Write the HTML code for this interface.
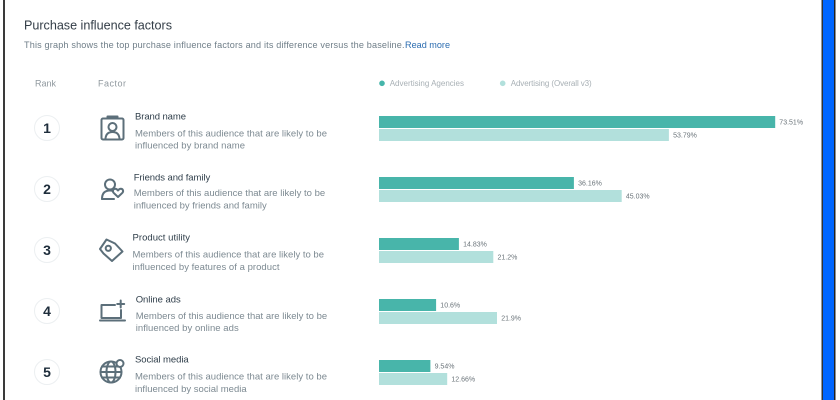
<!DOCTYPE html>
<html><head><meta charset="utf-8"><style>
html,body{margin:0;padding:0;background:#fff;}
svg{display:block;}
text{font-family:"Liberation Sans",Arial,sans-serif;}
</style></head><body>
<svg width="840" height="400" viewBox="0 0 840 400" xmlns="http://www.w3.org/2000/svg">
<rect width="840" height="400" fill="#fff"/>
<!-- borders -->
<rect x="3" y="0" width="2" height="400" fill="#3a3a3a"/>
<rect x="821.5" y="0" width="1.5" height="400" fill="#333"/>
<rect x="823" y="0" width="11" height="400" fill="#0066ff"/>
<rect x="834" y="0" width="1.5" height="400" fill="#222"/>

<!-- header -->
<text x="24" y="29.5" font-size="12.6" fill="#333d47" textLength="148">Purchase influence factors</text>
<text x="24" y="48.2" font-size="9.1" fill="#6f7e88" textLength="380.5">This graph shows the top purchase influence factors and its difference versus the baseline.</text>
<text x="405" y="48.2" font-size="9.1" fill="#2b6cb0" textLength="45">Read more</text>

<text x="35" y="86.3" font-size="9" fill="#8f989e" textLength="21">Rank</text>
<text x="98" y="86.3" font-size="9" fill="#8f989e" textLength="28">Factor</text>

<circle cx="382" cy="83.3" r="2.8" fill="#45b5aa"/>
<text x="389.7" y="86.2" font-size="8" fill="#a8b0b5" textLength="74.3">Advertising Agencies</text>
<circle cx="502.7" cy="83.3" r="2.8" fill="#b2e0dc"/>
<text x="510.7" y="86.2" font-size="8" fill="#a8b0b5" textLength="81">Advertising (Overall v3)</text>

<!-- rank circles -->
<g fill="#fff" stroke="#eceff1" stroke-width="1">
<circle cx="47" cy="128" r="12.5"/>
<circle cx="47" cy="189" r="12.5"/>
<circle cx="47" cy="250" r="12.5"/>
<circle cx="47" cy="311" r="12.5"/>
<circle cx="47" cy="372" r="12.5"/>
</g>
<g font-size="14" font-weight="bold" fill="#1e2d3b" text-anchor="middle">
<text x="47" y="133">1</text>
<text x="47" y="194">2</text>
<text x="47" y="255">3</text>
<text x="47" y="316">4</text>
<text x="47" y="377">5</text>
</g>

<!-- icons -->
<g fill="none" stroke="#5c6f7a" stroke-width="2" stroke-linecap="round" stroke-linejoin="round">
<!-- brand -->
<rect x="101.5" y="118.5" width="22" height="21" rx="1.5"/>
<path d="M107.5 118.5 V116.5 H117.5 V118.5"/>
<circle cx="112.5" cy="127" r="4"/>
<path d="M105.5 138.5 C106 133.5 109 132 112.5 132 C116 132 119 133.5 119.5 138.5"/>
<!-- friends -->
<circle cx="110" cy="184.5" r="5"/>
<path d="M102 199 C102 193 105 190.5 110 190.5 C111 190.5 112 190.6 112.8 190.9"/>
<path d="M102 199 H114"/>
<path d="M118 197 L113.6 192.8 C112.2 191.3 113 188.8 115.2 188.8 C116.5 188.8 117.3 189.6 118 190.5 C118.7 189.6 119.5 188.8 120.8 188.8 C123 188.8 123.8 191.3 122.4 192.8 Z"/>
<!-- tag -->
<path d="M100 249 L106.5 239.5 L115 243.5 L122.5 251.5 L112 261 L103.5 253.5 Z"/>
<circle cx="108.3" cy="248.3" r="2.6"/>
<!-- laptop -->
<path d="M115 305 H101.5 V318 H121 V310"/>
<path d="M100 320.5 H125"/>
<path d="M120.7 300.5 V307.5 M117.2 304 H124.2"/>
<!-- globe -->
<circle cx="111" cy="372" r="10.5"/>
<ellipse cx="111" cy="372" rx="4.5" ry="10.5"/>
<path d="M100.5 372 H121.5 M102 366.5 H118 M102 377.5 H120"/>
</g>
<circle cx="120" cy="363.5" r="3.5" fill="#fff" stroke="#5c6f7a" stroke-width="2"/>

<!-- factor text -->
<g font-size="9.5">
<text x="135" y="119.3" fill="#2f3e4a" textLength="51">Brand name</text>
<text x="135" y="136.4" fill="#7d8a92" textLength="192">Members of this audience that are likely to be</text>
<text x="135" y="148.6" fill="#7d8a92" textLength="110">influenced by brand name</text>

<text x="133.7" y="180.6" fill="#2f3e4a" textLength="76.5">Friends and family</text>
<text x="133.7" y="196" fill="#7d8a92" textLength="191.5">Members of this audience that are likely to be</text>
<text x="133.7" y="208.6" fill="#7d8a92" textLength="133">influenced by friends and family</text>

<text x="132.5" y="240.6" fill="#2f3e4a" textLength="57.5">Product utility</text>
<text x="132.5" y="257.6" fill="#7d8a92" textLength="191.5">Members of this audience that are likely to be</text>
<text x="132.5" y="270" fill="#7d8a92" textLength="147">influenced by features of a product</text>

<text x="135.7" y="302.6" fill="#2f3e4a" textLength="45">Online ads</text>
<text x="135.7" y="319" fill="#7d8a92" textLength="191.5">Members of this audience that are likely to be</text>
<text x="135.7" y="331" fill="#7d8a92" textLength="103">influenced by online ads</text>

<text x="135" y="362.6" fill="#2f3e4a" textLength="53.7">Social media</text>
<text x="135" y="379.6" fill="#7d8a92" textLength="192">Members of this audience that are likely to be</text>
<text x="135" y="392" fill="#7d8a92" textLength="111.7">influenced by social media</text>
</g>

<!-- bars -->
<g fill="#48b5aa">
<rect x="379" y="116" width="396.2" height="12"/>
<rect x="379" y="177" width="194.9" height="12"/>
<rect x="379" y="238" width="79.9" height="12"/>
<rect x="379" y="299" width="57.1" height="12"/>
<rect x="379" y="360" width="51.4" height="12"/>
</g>
<g fill="#b2e0dc">
<rect x="379" y="129" width="289.9" height="12"/>
<rect x="379" y="190" width="242.7" height="12"/>
<rect x="379" y="251" width="114.3" height="12"/>
<rect x="379" y="312" width="118" height="12"/>
<rect x="379" y="373" width="68.2" height="12"/>
</g>
<g font-size="7" fill="#6b747a">
<text x="779.3" y="124.5">73.51%</text>
<text x="673.1" y="137.5">53.79%</text>
<text x="578.1" y="185.5">36.16%</text>
<text x="625.9" y="198.5">45.03%</text>
<text x="463.1" y="246.5">14.83%</text>
<text x="497.5" y="259.5">21.2%</text>
<text x="440.3" y="307.5">10.6%</text>
<text x="501.2" y="320.5">21.9%</text>
<text x="434.6" y="368.5">9.54%</text>
<text x="451.4" y="381.5">12.66%</text>
</g>
</svg>
</body></html>
